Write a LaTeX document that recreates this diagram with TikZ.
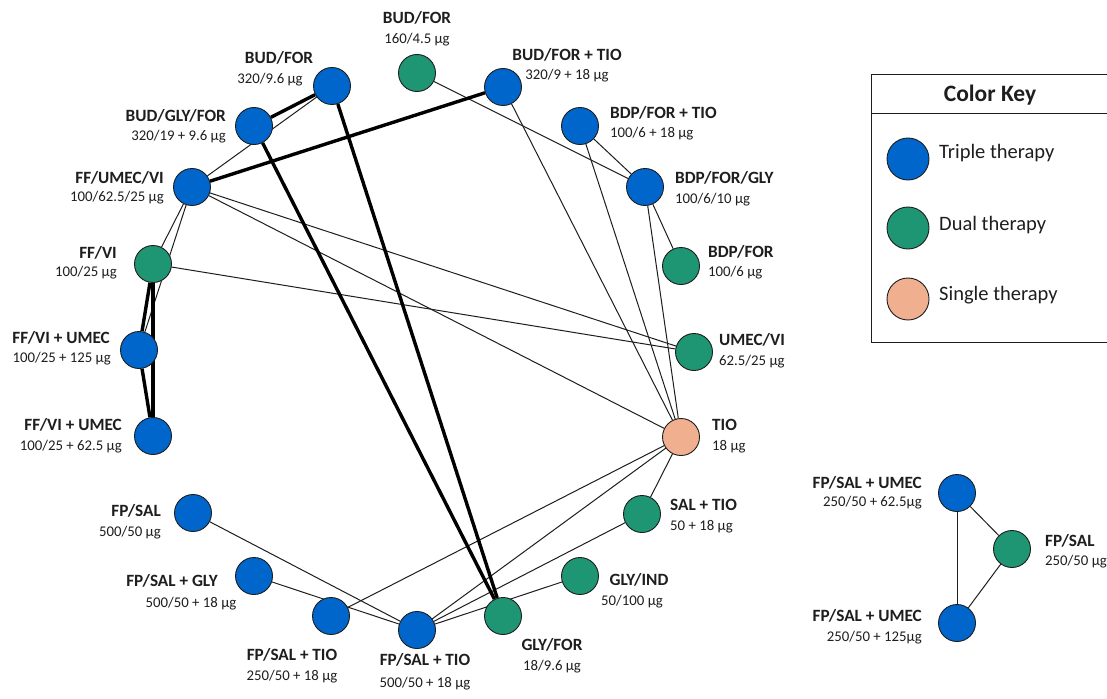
\documentclass[tikz,border=0pt]{standalone}
\usepackage{fontspec}
\setmainfont{Carlito}
\usetikzlibrary{backgrounds}
\definecolor{triple}{RGB}{0,102,204}
\definecolor{dual}{RGB}{30,150,115}
\definecolor{single}{RGB}{240,176,144}
\definecolor{ink}{RGB}{30,30,30}
\tikzset{
  tnode/.style={circle, draw=ink, line width=0.9pt, minimum size=37pt, inner sep=0pt},
  trip/.style={tnode, fill=triple},
  dua/.style={tnode, fill=dual},
  sing/.style={tnode, fill=single},
  keynode/.style={tnode, minimum size=42pt},
  nm/.style={font=\fontsize{17.2}{19}\selectfont\bfseries, inner sep=0pt, text=ink, text height=0.63em, text depth=0pt},
  ds/.style={font=\fontsize{14.8}{17}\selectfont, inner sep=0pt, text=ink, text height=0.63em, text depth=0pt},
  keytext/.style={font=\fontsize{20.5}{23}\selectfont, text=ink, inner sep=0pt, anchor=west, text height=0.7em, text depth=0pt},
  edgethin/.style={line width=1pt, draw=ink},
  edgethick/.style={line width=3.4pt, draw=black},
}
\begin{document}
\begin{tikzpicture}[x=1pt,y=-1pt]
\useasboundingbox (0,0) rectangle (1107,698);
% nodes
\node[trip] (b320) at (332,86) {};
\node[dua]  (b160) at (417,73) {};
\node[trip] (bft) at (503,87) {};
\node[trip] (bdpt) at (580,126) {};
\node[trip] (bfg) at (645,187) {};
\node[dua]  (bdp) at (681,266) {};
\node[dua]  (umvi) at (694,352) {};
\node[sing] (tio) at (681,437) {};
\node[dua]  (sal) at (642,514) {};
\node[dua]  (gi) at (580,576) {};
\node[dua]  (gf) at (503,616) {};
\node[trip] (fst500) at (417,630) {};
\node[trip] (fst250) at (331,616) {};
\node[trip] (fsg) at (254,576) {};
\node[trip] (fs500) at (193,513) {};
\node[trip] (fvu625) at (153,436) {};
\node[trip] (fvu125) at (139,350) {};
\node[dua]  (ffvi) at (153,264) {};
\node[trip] (fuv) at (192,187) {};
\node[trip] (bgf) at (254,126) {};
\node[trip] (fsu625) at (957,493) {};
\node[dua]  (fs250) at (1012,549) {};
\node[trip] (fsu125) at (957,623) {};
% edges
\begin{pgfonlayer}{background}
\fill[white] (0,0) rectangle (1107,698);
\draw[edgethin] (fuv) -- (b320);
\draw[edgethin] (b160) -- (bfg);
\draw[edgethin] (bft) -- (tio);
\draw[edgethin] (bdpt) -- (tio);
\draw[edgethin] (bdpt) -- (bfg);
\draw[edgethin] (bfg) -- (bdp);
\draw[edgethin] (bfg) -- (tio);
\draw[edgethin] (fuv) -- (umvi);
\draw[edgethin] (ffvi) -- (umvi);
\draw[edgethin] (fuv) -- (tio);
\draw[edgethin] (fuv) -- (ffvi);
\draw[edgethin] (fuv) -- (fvu125);
\draw[edgethin] (tio) -- (sal);
\draw[edgethin] (tio) -- (fst250);
\draw[edgethin] (tio) -- (fst500);
\draw[edgethin] (sal) -- (fst500);
\draw[edgethin] (fst500) -- (gi);
\draw[edgethin] (fs500) -- (fst500);
\draw[edgethin] (fsg) -- (fst500);
\draw[edgethin] (fsu625) -- (fsu125);
\draw[edgethin] (fsu625) -- (fs250);
\draw[edgethin] (fs250) -- (fsu125);
\draw[edgethick] (b320) -- (bgf);
\draw[edgethick] (fuv) -- (bft);
\draw[edgethick] (bgf) -- (gf);
\draw[edgethick] (b320) -- (gf);
\draw[edgethick] (ffvi) -- (fvu125);
\draw[edgethick] (ffvi) -- (fvu625);
\draw[edgethick] (fvu125) -- (fvu625);
\end{pgfonlayer}
% labels
\node[nm] (l-b160) at (417,20) {BUD/FOR};
\node[ds] (d-b160) at (417,40) {160/4.5 µg};
\node[nm] (l-b320) at (279,60) {BUD/FOR};
\node[ds] (d-b320) at (270,80) {320/9.6 µg};
\node[nm] (l-bft) at (567,57) {BUD/FOR + TIO};
\node[ds] (d-bft) at (567,76) {320/9 + 18 µg};
\node[nm, anchor=west] (l-bdpt) at (610,115) {BDP/FOR + TIO};
\node[ds, anchor=west] (d-bdpt) at (610,134) {100/6 + 18 µg};
\node[nm, anchor=west] (l-bfg) at (675,180) {BDP/FOR/GLY};
\node[ds, anchor=west] (d-bfg) at (675,200) {100/6/10 µg};
\node[nm, anchor=west] (l-bdp) at (708,254) {BDP/FOR};
\node[ds, anchor=west] (d-bdp) at (708,273) {100/6 µg};
\node[nm, anchor=west] (l-umvi) at (719,342) {UMEC/VI};
\node[ds, anchor=west] (d-umvi) at (719,362) {62.5/25 µg};
\node[nm, anchor=west] (l-tio) at (712,427) {TIO};
\node[ds, anchor=west] (d-tio) at (712,447) {18 µg};
\node[nm, anchor=west] (l-sal) at (670,507) {SAL + TIO};
\node[ds, anchor=west] (d-sal) at (670,527) {50 + 18 µg};
\node[nm] (l-gi) at (639,582) {GLY/IND};
\node[ds] (d-gi) at (632,602) {50/100 µg};
\node[nm] (l-gf) at (552,647) {GLY/FOR};
\node[ds] (d-gf) at (552,667) {18/9.6 µg};
\node[nm] (l-fst500) at (425,662) {FP/SAL + TIO};
\node[ds] (d-fst500) at (425,684) {500/50 + 18 µg};
\node[nm] (l-fst250) at (292,657) {FP/SAL + TIO};
\node[ds] (d-fst250) at (292,677) {250/50 + 18 µg};
\node[nm] (l-fsg) at (172,583) {FP/SAL + GLY};
\node[ds] (d-fsg) at (191,604) {500/50 + 18 µg};
\node[nm, anchor=east] (l-fs500) at (161,513) {FP/SAL};
\node[ds, anchor=east] (d-fs500) at (161,533) {500/50 µg};
\node[nm, anchor=east] (l-fvu625) at (122,427) {FF/VI + UMEC};
\node[ds, anchor=east] (d-fvu625) at (122,447) {100/25 + 62.5 µg};
\node[nm, anchor=east] (l-fvu125) at (110,340) {FF/VI + UMEC};
\node[ds, anchor=east] (d-fvu125) at (111,359) {100/25 + 125 µg};
\node[nm, anchor=east] (l-ffvi) at (117,255) {FF/VI};
\node[ds, anchor=east] (d-ffvi) at (117,273) {100/25 µg};
\node[nm, anchor=east] (l-fuv) at (164,180) {FF/UMEC/VI};
\node[ds, anchor=east] (d-fuv) at (164,198) {100/62.5/25 µg};
\node[nm, anchor=east] (l-bgf) at (226,118) {BUD/GLY/FOR};
\node[ds, anchor=east] (d-bgf) at (226,137) {320/19 + 9.6 µg};
\node[nm, anchor=east] (l-fsu625) at (922,485) {FP/SAL + UMEC};
\node[ds, anchor=east] (d-fsu625) at (922,503) {250/50 + 62.5µg};
\node[nm, anchor=west] (l-fs250) at (1045,543) {FP/SAL};
\node[ds, anchor=west] (d-fs250) at (1045,562) {250/50 µg};
\node[nm, anchor=east] (l-fsu125) at (922,618) {FP/SAL + UMEC};
\node[ds, anchor=east] (d-fsu125) at (922,638) {250/50 + 125µg};
% color key
\draw[line width=1pt, draw=ink] (871,75) rectangle (1110,342);
\draw[line width=1pt, draw=ink] (871,114) -- (1110,114);
\node[font=\fontsize{23.5}{26}\selectfont\bfseries, text=ink, inner sep=0pt] (keytitle) at (990,95) {Color Key};
\node[keynode, fill=triple] (k1) at (908,159) {};
\node[keynode, fill=dual] (k2) at (908,228) {};
\node[keynode, fill=single] (k3) at (908,299) {};
\node[keytext] (kt1) at (939,155) {Triple therapy};
\node[keytext] (kt2) at (939,227) {Dual therapy};
\node[keytext] (kt3) at (939,297) {Single therapy};
\end{tikzpicture}
\end{document}
